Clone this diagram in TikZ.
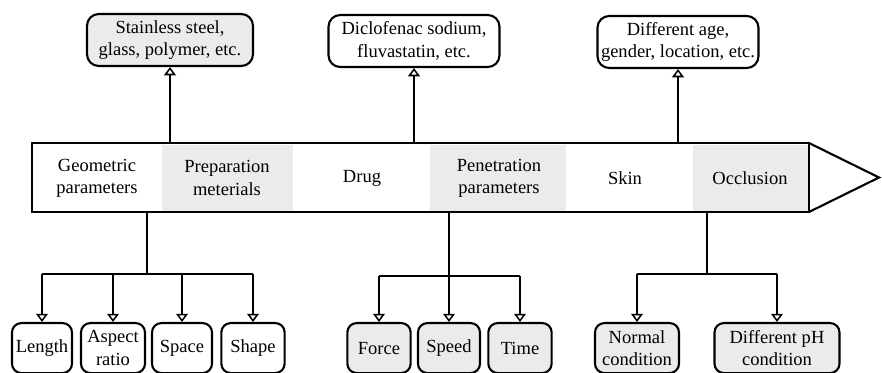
\documentclass[tikz,border=0pt]{standalone}
\usepackage{fontspec}
\setmainfont{Liberation Serif}
\usetikzlibrary{arrows.meta}
\definecolor{segray}{gray}{0.92}

\begin{document}
\begin{tikzpicture}[x=0.03cm, y=-0.03cm,
  font=\fontsize{15.8}{19}\selectfont,
  seg/.style={align=center, inner sep=0pt},
  topbox/.style={draw, line width=1.8pt, rounded corners=10pt, align=center,
    inner sep=0pt, minimum height=1.56cm},
  leaf/.style={draw, line width=1.8pt, rounded corners=8pt, align=center,
    inner sep=0pt, minimum height=1.5cm, anchor=north},
  wire/.style={line width=1.3pt},
  arr/.style={wire, -{Triangle[open, length=7pt, width=10pt]}}]
    \useasboundingbox (0,0) rectangle (882,373);
    \coordinate (bartop) at (0,143);
    \coordinate (barbot) at (0,212);
    \fill[segray] (162,145) rectangle (293,211);
    \fill[segray] (430,145) rectangle (566,211);
    \fill[segray] (693,145) rectangle (808,211);
    \draw[line width=1.8pt] (32,143) rectangle (809,212);
    \draw[line width=1.8pt] (809,143) -- (879,177.5) -- (809,212);
    \node[seg] (geo) at (97,178) {Geometric\\parameters};
    \node[seg] (prep) at (227,178) {Preparation\\meterials};
    \node[seg] (drug) at (362,178) {Drug};
    \node[seg] (pene) at (499,178) {Penetration\\parameters};
    \node[seg] (skin) at (625,178) {Skin};
    \node[seg] (occl) at (750,178) {Occlusion};

    \node[topbox, fill=segray, minimum width=4.98cm] (steel) at (170,40) {Stainless steel,\\glass, polymer, etc.};
    \node[topbox, minimum width=5.13cm] (diclo) at (414,41) {Diclofenac sodium,\\fluvastatin, etc.};
    \node[topbox, minimum width=4.83cm] (age) at (678,42) {Different age,\\gender, location, etc.};
    \foreach \n in {steel,diclo,age}
        \draw[arr] (\n.south |- bartop) -- (\n.south);

    \node[leaf, minimum width=1.8cm] (len) at (42,322) {Length};
    \node[leaf, minimum width=1.92cm] (asp) at (113,322) {Aspect\\ratio};
    \node[leaf, minimum width=1.8cm] (spc) at (182,322) {Space};
    \node[leaf, minimum width=1.9cm] (shp) at (253,322) {Shape};
    \coordinate (gb) at (147,274);
    \draw[wire] (gb |- barbot) -- (gb);
    \draw[wire] (len.north |- gb) -- (shp.north |- gb);
    \foreach \n in {len,asp,spc,shp}
        \draw[arr] (\n.north |- gb) -- (\n.north);

    \node[leaf, fill=segray, minimum width=1.9cm] (frc) at (379,322) {Force};
    \node[leaf, fill=segray, minimum width=1.86cm] (spd) at (449,322) {Speed};
    \node[leaf, fill=segray, minimum width=1.9cm] (tim) at (520,322) {Time};
    \coordinate (pb) at (449,276);
    \draw[arr] (spd.north |- barbot) -- (spd.north);
    \draw[wire] (frc.north |- pb) -- (tim.north |- pb);
    \foreach \n in {frc,tim}
        \draw[arr] (\n.north |- pb) -- (\n.north);

    \node[leaf, fill=segray, minimum width=2.52cm] (norm) at (637,322) {Normal\\condition};
    \node[leaf, fill=segray, minimum width=3.75cm] (ph) at (777,322) {Different pH\\condition};
    \coordinate (ob) at (707,274);
    \draw[wire] (ob |- barbot) -- (ob);
    \draw[wire] (norm.north |- ob) -- (ph.north |- ob);
    \foreach \n in {norm,ph}
        \draw[arr] (\n.north |- ob) -- (\n.north);
\end{tikzpicture}
\end{document}
